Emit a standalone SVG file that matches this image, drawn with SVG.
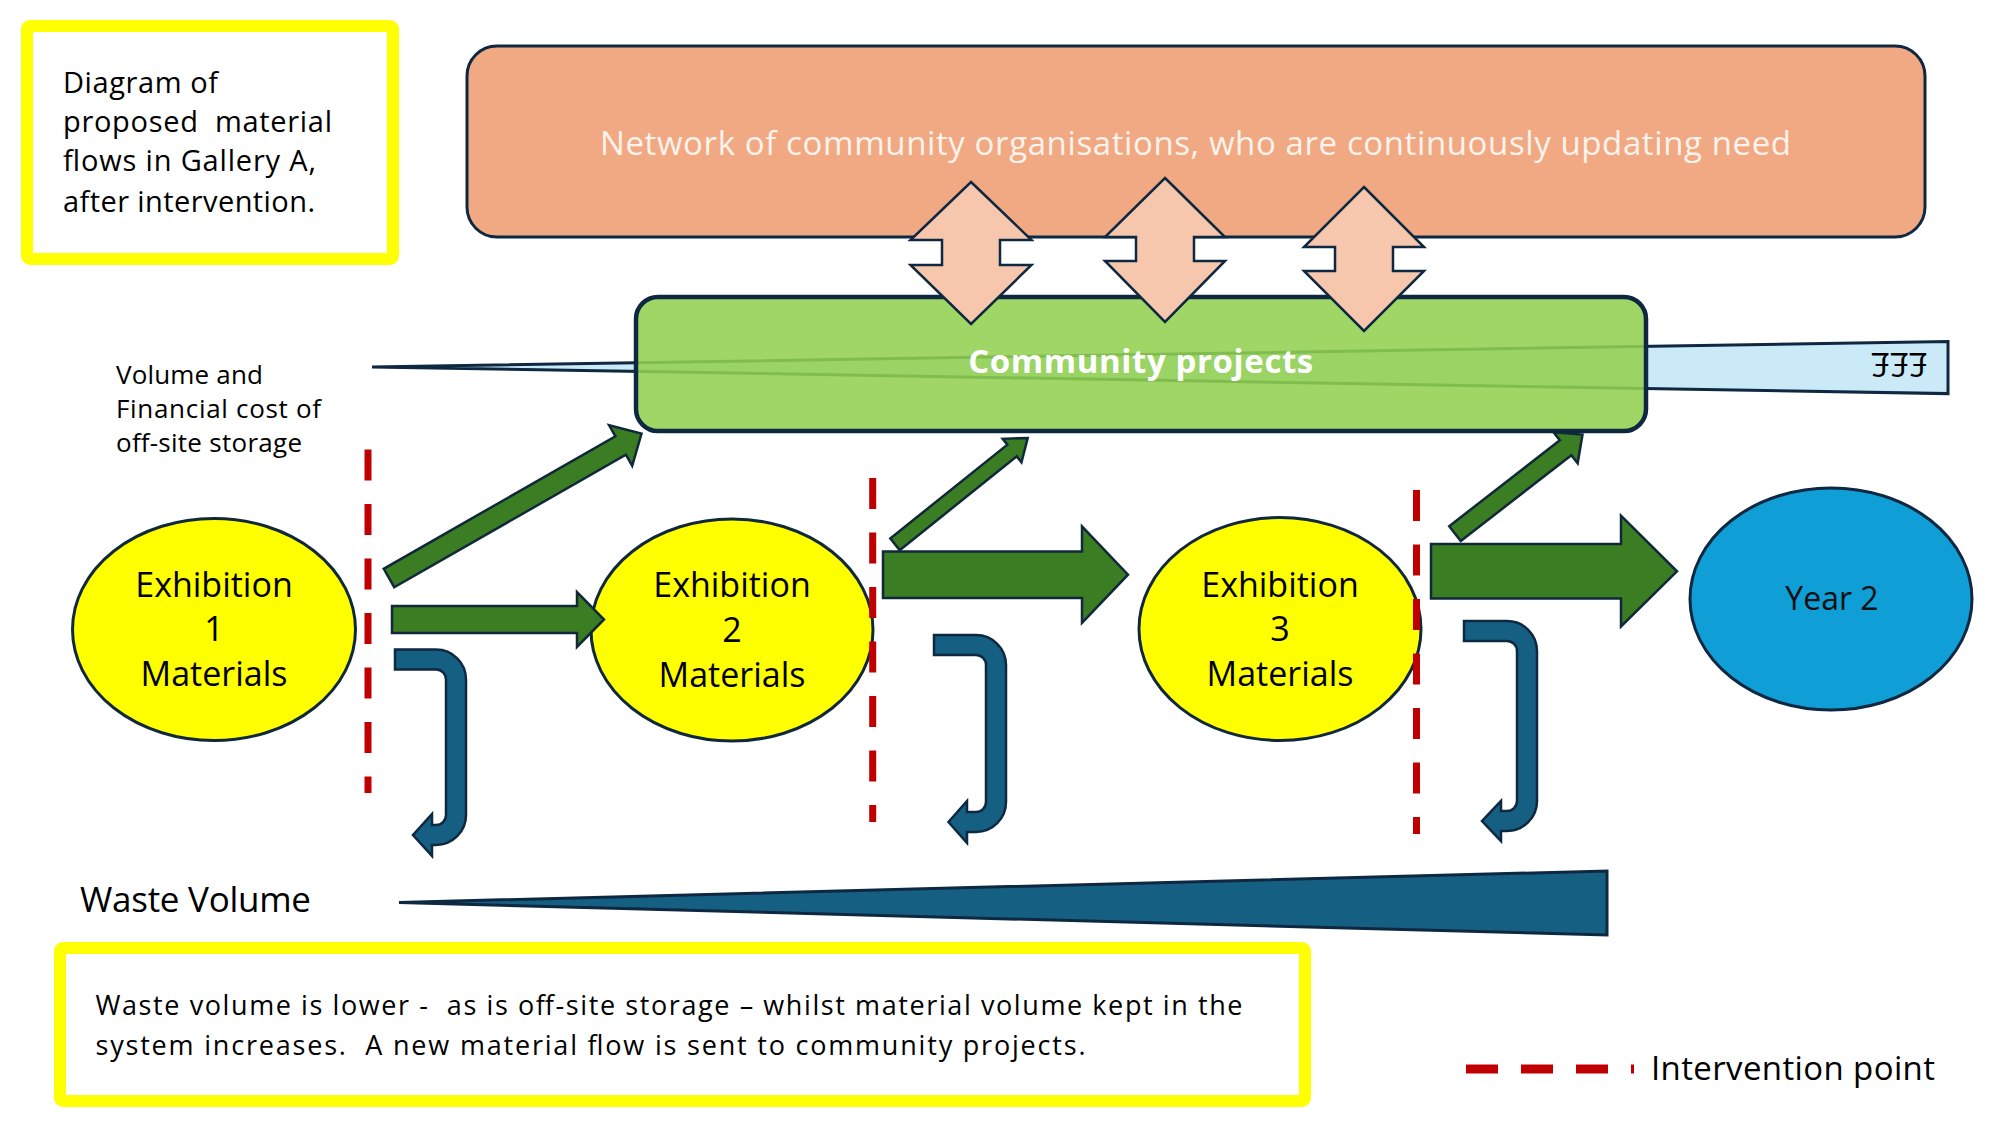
<svg xmlns="http://www.w3.org/2000/svg" width="2000" height="1125" viewBox="0 0 2000 1125">
<style>
text { font-family: "Open Sans", "Liberation Sans", sans-serif; fill: #000; }
.ybox { fill: #ffffff; stroke: #ffff00; stroke-width: 12; }
.ell { fill: #ffff00; stroke: #10283a; stroke-width: 3; }
.ellt { font-size: 34px; text-anchor: middle; }
.garrow { fill: #3b7d23; stroke: #10283a; stroke-width: 2.5; }
.barrow { fill: #156082; stroke: #0e2841; stroke-width: 2.5; }
.darrow { fill: #f6c6ad; stroke: #0e2841; stroke-width: 2.5; }
.ip { stroke: #c00000; stroke-width: 7; stroke-dasharray: 31 23.5; fill: none; }
.wedge { stroke: #0e2841; stroke-width: 3; stroke-linejoin: miter; }
</style>
<rect x="0" y="0" width="2000" height="1125" fill="#ffffff"/>

<g id="title-box">
  <rect class="ybox" x="27" y="26" width="366" height="233" rx="3"/>
  <text xml:space="preserve" font-size="29" x="63" y="93" textLength="155" lengthAdjust="spacing">Diagram of</text>
  <text xml:space="preserve" font-size="29" x="63" y="132" textLength="269" lengthAdjust="spacing">proposed  material</text>
  <text xml:space="preserve" font-size="29" x="63" y="171" textLength="253" lengthAdjust="spacing">flows in Gallery A,</text>
  <text xml:space="preserve" font-size="29" x="63" y="212" textLength="252" lengthAdjust="spacing">after intervention.</text>
</g>

<g id="network">
  <rect x="467" y="46" width="1458" height="191" rx="30" fill="#f1a983" stroke="#0e2841" stroke-width="3"/>
  <text x="600" y="155" font-size="33" textLength="1191" lengthAdjust="spacing" style="fill:#fdf3ec">Network of community organisations, who are continuously updating need</text>
</g>

<g id="storage-cost">
  <polygon class="wedge" points="372,367 1948,341.4 1948,393.6" fill="#caeaf8"/>
  <text x="1899" y="377" font-size="33" text-anchor="middle" transform="rotate(180 1899 365)">£££</text>
  <text font-size="26" x="116" y="384" textLength="147" lengthAdjust="spacing">Volume and</text>
  <text font-size="26" x="116" y="418" textLength="205" lengthAdjust="spacing">Financial cost of</text>
  <text font-size="26" x="116" y="452" textLength="186" lengthAdjust="spacing">off-site storage</text>
</g>

<g id="community-projects">
  <rect x="636" y="297" width="1010" height="134" rx="22" fill="#92d050" fill-opacity="0.88" stroke="#0e2841" stroke-width="4.5"/>
  <text x="1141" y="373" font-size="33" font-weight="bold" text-anchor="middle" letter-spacing="0.6" style="fill:#ffffff">Community projects</text>
</g>

<g id="exhibition-1">
  <ellipse class="ell" cx="214" cy="629.5" rx="141.5" ry="111"/>
  <text class="ellt" x="214" y="597">Exhibition</text>
  <text class="ellt" x="214" y="641">1</text>
  <text class="ellt" x="214" y="686">Materials</text>
</g>
<g id="exhibition-2">
  <ellipse class="ell" cx="732" cy="630" rx="141" ry="111"/>
  <text class="ellt" x="732" y="597">Exhibition</text>
  <text class="ellt" x="732" y="642">2</text>
  <text class="ellt" x="732" y="687">Materials</text>
</g>
<g id="exhibition-3">
  <ellipse class="ell" cx="1280" cy="629" rx="141" ry="111.5"/>
  <text class="ellt" x="1280" y="597">Exhibition</text>
  <text class="ellt" x="1280" y="641">3</text>
  <text class="ellt" x="1280" y="686">Materials</text>
</g>
<g id="year-2">
  <ellipse cx="1831" cy="599" rx="141" ry="111" fill="#0f9ed5" stroke="#0e2841" stroke-width="3"/>
  <text x="1832" y="610" font-size="32" text-anchor="middle" style="fill:#111">Year 2</text>
</g>

<g id="connectors">
  <polygon class="darrow" points="971,182 1031.5,240 1000,240 1000,265 1031.5,265 971,324 910.5,265 942,265 942,240 910.5,240"/>
  <polygon class="darrow" points="1165,178 1225,237 1194,237 1194,261 1225,261 1165,322 1105,261 1136,261 1136,237 1105,237"/>
  <polygon class="darrow" points="1364,187 1424,247 1393,247 1393,271 1424,271 1364,331 1304,271 1335,271 1335,247 1304,247"/>

  <polygon class="garrow" points="394.25,587.21 625.9,454.7 632.19,465.73 641.5,433.6 609.11,425.25 615.4,436.28 383.75,568.79"/>
  <polygon class="garrow" points="899.69,550.15 1016.78,456.36 1021.47,462.22 1027.7,438 1002.71,438.8 1007.4,444.66 890.31,538.45"/>
  <polygon class="garrow" points="1460.77,541.03 1571.36,455.16 1577.67,463.29 1582.5,434.6 1553.51,432.17 1559.82,440.3 1449.23,526.17"/>

  <polygon class="garrow" points="392,606 577,606 577,592 604,619.5 577,647 577,633 392,633"/>
  <polygon class="garrow" points="883,551.4 1082,551.4 1082,526.4 1128,574.7 1082,622.9 1082,597.9 883,597.9"/>
  <polygon class="garrow" points="1431,544 1621,544 1621,515.7 1677,571.3 1621,626.4 1621,598.6 1431,598.6"/>

  <path class="barrow" d="M395,649.5 H436 A30,30 0 0 1 466,679.5 V815 A30,30 0 0 1 436,845 H432 V856 L413,835 L432,814 V825 H436 A10,10 0 0 0 446,815 V679.5 A10,10 0 0 0 436,669.5 H395 Z"/>
  <path class="barrow" d="M934,635 H976 A30,30 0 0 1 1006,665 V802 A30,30 0 0 1 976,832 H967 V843 L948.5,822 L967,801 V812 H976 A10,10 0 0 0 986,802 V665 A10,10 0 0 0 976,655 H934 Z"/>
  <path class="barrow" d="M1464,621 H1507 A30,30 0 0 1 1537,651 V801 A30,30 0 0 1 1507,831 H1501 V841 L1482,821 L1501,801 V811 H1507 A10,10 0 0 0 1517,801 V651 A10,10 0 0 0 1507,641 H1464 Z"/>
</g>

<g id="intervention-points">
  <line class="ip" x1="368" y1="449.5" x2="368" y2="793"/>
  <line class="ip" x1="872.7" y1="478" x2="872.7" y2="822"/>
  <line class="ip" x1="1416.5" y1="490" x2="1416.5" y2="834"/>
</g>

<g id="waste-volume">
  <text x="80" y="912" font-size="35" textLength="231" lengthAdjust="spacing">Waste Volume</text>
  <polygon class="wedge" points="399,902.5 1607,871 1607,935" fill="#156082"/>
</g>

<g id="summary-box">
  <rect class="ybox" x="60" y="948" width="1245" height="153" rx="3"/>
  <text xml:space="preserve" font-size="27" x="95.5" y="1015" textLength="1147" lengthAdjust="spacing">Waste volume is lower -  as is off-site storage – whilst material volume kept in the</text>
  <text xml:space="preserve" font-size="27" x="95.5" y="1055" textLength="990" lengthAdjust="spacing">system increases.  A new material flow is sent to community projects.</text>
</g>

<g id="legend">
  <line x1="1466" y1="1069" x2="1634" y2="1069" stroke="#c00000" stroke-width="9" stroke-dasharray="32 23"/>
  <text x="1651" y="1080" font-size="33" textLength="284" lengthAdjust="spacing">Intervention point</text>
</g>
</svg>
